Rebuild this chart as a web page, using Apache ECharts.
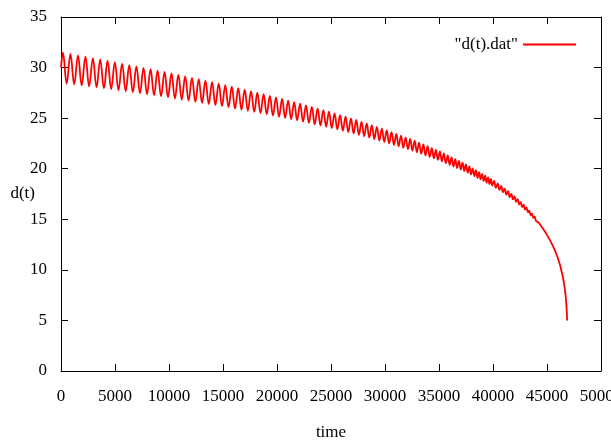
<!DOCTYPE html>
<html>
<head>
<meta charset="utf-8">
<script src="https://cdn.jsdelivr.net/npm/echarts@6/dist/echarts.min.js"></script>
<style>
  html, body { margin: 0; padding: 0; background: #fff; }
  #chart { width: 611px; height: 441px; }
</style>
</head>
<body>
<div id="chart"></div>
<script>
// peaks / troughs, one line per stretch of time
const time = [
  0, 175, 525, 874, 1222, 1570, 1917, 2263,
  2608, 2950, 3291, 3632, 3972, 4311, 4649, 4986,
  5321, 5656, 5990, 6322, 6653, 6983, 7312,
  7640, 7967, 8293, 8618, 8942, 9265, 9587, 9908,
  10228, 10547, 10865, 11182, 11498, 11813, 12127, 12440,
  12752, 13063, 13373, 13682, 13990, 14297, 14603, 14908,
  15211, 15513, 15814, 16114, 16413, 16711, 17007, 17302,
  17596, 17889, 18181, 18472, 18761, 19049, 19336, 19622, 19906,
  20189, 20472, 20753, 21033, 21311, 21588, 21864, 22139, 22412,
  22684, 22955, 23225, 23493, 23760, 24025, 24289, 24551, 24812,
  25072, 25330, 25587, 25842, 26096, 26348, 26598, 26847, 27094, 27340,
  27584, 27826, 28067, 28306, 28543, 28779, 29013, 29245, 29476, 29705, 29933,
  30159, 30384, 30607, 30828, 31048, 31266, 31482, 31697, 31910, 32121, 32331,
  32539, 32745, 32950, 33153, 33354, 33553, 33751, 33947, 34141, 34333, 34524, 34713, 34900,
  35086, 35270, 35452, 35632, 35811, 35988, 36163, 36336, 36507, 36677, 36845, 37011, 37175, 37337, 37497,
  37656, 37813, 37968, 38121, 38272, 38421, 38568, 38713, 38856, 38997, 39136, 39273, 39408, 39541, 39672, 39801, 39928,
  40097, 40266, 40433, 40598, 40761, 40922,
  41081, 41238, 41393, 41546, 41697, 41846, 41993,
  42138, 42281, 42422, 42561, 42698, 42833, 42966,
  43099, 43230, 43359, 43486, 43611, 43734, 43855, 43974,
  44200, 44500, 45000, 45500, 45800, 46000, 46150, 46300, 46500, 46600, 46700, 46750, 46800, 46830, 46860, 46864
];
const dist = [
  30.00, 31.47, 28.42, 31.34, 28.33, 31.20, 28.24, 31.07,
  28.14, 30.93, 28.05, 30.80, 27.94, 30.68, 27.86, 30.53,
  27.76, 30.39, 27.66, 30.25, 27.56, 30.11, 27.46,
  29.97, 27.36, 29.84, 27.25, 29.70, 27.15, 29.56, 27.05,
  29.42, 26.94, 29.27, 26.84, 29.13, 26.73, 28.98, 26.62,
  28.85, 26.51, 28.70, 26.40, 28.55, 26.30, 28.40, 26.19,
  28.26, 26.07, 28.11, 25.95, 27.96, 25.84, 27.81, 25.73,
  27.66, 25.62, 27.51, 25.49, 27.36, 25.38, 27.20, 25.27, 27.06,
  25.14, 26.90, 25.02, 26.74, 24.90, 26.58, 24.78, 26.43, 24.65,
  26.27, 24.53, 26.11, 24.39, 25.95, 24.27, 25.79, 24.15, 25.64,
  24.02, 25.47, 23.89, 25.30, 23.75, 25.14, 23.62, 24.97, 23.49, 24.82,
  23.35, 24.64, 23.21, 24.48, 23.07, 24.30, 22.93, 24.14, 22.79, 23.97, 22.65,
  23.80, 22.51, 23.62, 22.36, 23.45, 22.22, 23.28, 22.07, 23.10, 21.93, 22.94,
  21.79, 22.77, 21.63, 22.58, 21.47, 22.40, 21.32, 22.22, 21.17, 22.04, 21.02, 21.87, 20.88,
  21.70, 20.72, 21.51, 20.55, 21.31, 20.38, 21.13, 20.22, 20.95, 20.07, 20.77, 19.92, 20.60, 19.77, 20.43,
  19.61, 20.23, 19.43, 20.04, 19.26, 19.85, 19.09, 19.66, 18.94, 19.49, 18.78, 19.32, 18.63, 19.15, 18.48, 18.99, 18.34,
  18.79, 18.12, 18.54, 17.90, 18.29, 17.68,
  18.04, 17.43, 17.78, 17.20, 17.52, 16.97, 17.27,
  16.72, 16.99, 16.46, 16.71, 16.21, 16.45, 15.97,
  16.17, 15.69, 15.86, 15.40, 15.56, 15.13, 15.27, 14.86,
  14.69, 14.27, 13.46, 12.47, 11.74, 11.17, 10.67, 10.09, 9.12, 8.49, 7.67, 7.14, 6.44, 5.90, 5.12, 5.00
];
const xRange = [0, 50000, 5000]; // min, max, step
const yRange = [0, 35, 5];
const seriesName = '"d(t).dat"';

if (time.length !== dist.length) console.error('length mismatch', time.length, dist.length);

const font = 'Liberation Serif';
const black = '#000';
const textStyle = { fontFamily: font, fontSize: 17, color: black };

// gnuplot style box: ticks inside on all four sides
function frameAxis(range, extra) {
  return Object.assign({
    type: 'value',
    min: range[0],
    max: range[1],
    interval: range[2],
    axisLine: { show: true, onZero: false, lineStyle: { color: black, width: 1 } },
    axisTick: { show: true, inside: true, length: 7, lineStyle: { color: black } },
    axisLabel: { show: false },
    splitLine: { show: false }
  }, extra);
}

const chart = echarts.init(document.getElementById('chart'));
chart.setOption({
  animation: false,
  backgroundColor: '#fff',
  textStyle: { fontFamily: font },
  grid: { left: 61, right: 10, top: 17, bottom: 70, outerBoundsMode: 'none', containLabel: false },
  legend: {
    right: 30,
    top: 31,
    align: 'right',
    itemWidth: 53,
    itemHeight: 2,
    textStyle: textStyle,
    data: [{ name: seriesName, icon: 'rect' }]
  },
  xAxis: [
    frameAxis(xRange, {
      position: 'bottom',
      name: 'time',
      nameLocation: 'middle',
      nameGap: 53,
      nameMoveOverlap: false,
      nameTextStyle: textStyle,
      axisLabel: Object.assign({ show: true, showMaxLabel: true, margin: 17, formatter: v => String(v) }, textStyle)
    }),
    frameAxis(xRange, { position: 'top' })
  ],
  yAxis: [
    frameAxis(yRange, {
      position: 'left',
      name: 'd(t)',
      nameLocation: 'middle',
      nameRotate: 0,
      nameGap: 26,
      nameMoveOverlap: false,
      nameTextStyle: textStyle,
      axisLabel: Object.assign({ show: true, margin: 14 }, textStyle)
    }),
    frameAxis(yRange, { position: 'right' })
  ],
  series: [{
    name: seriesName,
    type: 'line',
    xAxisIndex: 0,
    yAxisIndex: 0,
    symbol: 'none',
    smooth: 0.4,
    lineStyle: { color: '#ff0000', width: 1.8 },
    itemStyle: { color: '#ff0000' },
    data: time.map((t, i) => [t, dist[i]])
  }]
});
</script>
</body>
</html>
